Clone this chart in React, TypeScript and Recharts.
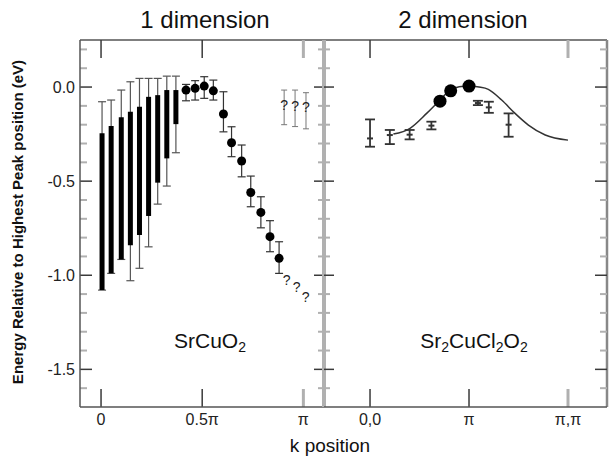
import React from 'react';
import { ComposedChart, Scatter, Line, XAxis, YAxis, ErrorBar, ReferenceLine } from 'recharts';

const FONT = '"Liberation Sans", Arial, Helvetica, sans-serif';

// ---------- Left panel: 1 dimension, SrCuO2 (k in units of pi) ----------
const barK = [0.005, 0.05, 0.1, 0.145, 0.19, 0.235, 0.28, 0.325, 0.37];
const barTop = [-0.246, -0.207, -0.161, -0.131, -0.105, -0.052, -0.043, -0.016, -0.016];
const barBottom = [-1.079, -0.99, -0.916, -0.84, -0.786, -0.685, -0.508, -0.379, -0.197];
const whiskerTop = [-0.078, -0.069, -0.016, 0.028, 0.046, 0.046, 0.046, 0.058, 0.058];
const whiskerBottom = [-1.079, -0.99, -0.916, -1.029, -0.963, -0.849, -0.622, -0.526, -0.349];

const dotK = [0.42, 0.465, 0.51, 0.555, 0.605, 0.645, 0.695, 0.74, 0.79, 0.835, 0.88];
const dotE = [-0.016, -0.007, 0.005, -0.02, -0.143, -0.296, -0.393, -0.56, -0.666, -0.795, -0.91];
const dotHi = [0.014, 0.034, 0.055, 0.037, -0.025, -0.211, -0.308, -0.473, -0.583, -0.71, -0.822];
const dotLo = [-0.073, -0.069, -0.06, -0.069, -0.238, -0.37, -0.477, -0.636, -0.748, -0.875, -0.99];

const qUpK = [0.905, 0.959, 1.013];
const qUpE = [-0.097, -0.1, -0.105];
const qUpHi = [-0.016, -0.016, -0.03];
const qUpLo = [-0.2, -0.21, -0.222];

const qLowK = [0.918, 0.967, 1.011];
const qLowE = [-1.026, -1.061, -1.114];

const xTicks1 = [0, 0.5, 1];
const xLabels1 = ['0', '0.5\u03c0', '\u03c0'];

// ---------- Right panel: 2 dimension, Sr2CuCl2O2 ----------
const curveK = [0.236, 0.404, 0.572, 0.69, 0.808, 0.9, 1.0, 1.1, 1.195, 1.33, 1.465, 1.6, 1.77, 2.0];
const curveE = [-0.25, -0.219, -0.14, -0.078, -0.018, 0.002, 0.005, 0.0, -0.012, -0.069, -0.14, -0.202, -0.255, -0.282];

const dot2K = [0.707, 0.815, 1.0];
const dot2E = [-0.075, -0.02, 0.005];

const err2K = [0, 0.2, 0.4, 0.62, 1.09, 1.2, 1.4];
const err2E = [-0.273, -0.255, -0.253, -0.205, -0.085, -0.108, -0.2];
const err2Hi = [-0.172, -0.228, -0.228, -0.184, -0.073, -0.078, -0.14];
const err2Lo = [-0.317, -0.303, -0.278, -0.225, -0.096, -0.137, -0.264];

const xTicks2 = [0, 1, 2];
const xLabels2 = ['0,0', '\u03c0', '\u03c0,\u03c0'];

const yMajor = [0, -0.5, -1.0, -1.5];
const yMinor = [0.2, 0.1, -0.1, -0.2, -0.3, -0.4, -0.6, -0.7, -0.8, -0.9, -1.1, -1.2, -1.3, -1.4, -1.6];
const yLabels = ['0.0', '-0.5', '-1.0', '-1.5'];

// ---------- geometry (style) ----------
const Y_MIN = -1.7;
const Y_MAX = 0.25;
const PLOT_H = 367;
const X1 = [-0.104, 1.102];
const X2 = [-0.465, 2.394];
const PLOT_W1 = 244;
const PLOT_W2 = 283;
const yPerPx = (Y_MAX - Y_MIN) / PLOT_H;
const x1PerPx = (X1[1] - X1[0]) / PLOT_W1;
const x2PerPx = (X2[1] - X2[0]) / PLOT_W2;

const MAJOR = '#3a3a3a';
const MINOR = '#b0b0b0';
const FRAME = '#555';

// ---------- derived series data ----------
const barData = barK.map((k, i) => {
  const mid = (barTop[i] + barBottom[i]) / 2;
  return {
    k,
    v: mid,
    bar: [mid - barBottom[i], barTop[i] - mid],
    whisker: [mid - whiskerBottom[i], whiskerTop[i] - mid],
  };
});
const dotData = dotK.map((k, i) => ({ k, v: dotE[i], err: [dotE[i] - dotLo[i], dotHi[i] - dotE[i]] }));
const qUpData = qUpK.map((k, i) => ({ k, v: qUpE[i], err: [qUpE[i] - qUpLo[i], qUpHi[i] - qUpE[i]] }));
const qLowData = qLowK.map((k, i) => ({ k, v: qLowE[i] }));

const curveData = curveK.map((k, i) => ({ k, v: curveE[i] }));
const dot2Data = dot2K.map((k, i) => ({ k, v: dot2E[i] }));
const err2Data = err2K.map((k, i) => ({ k, v: err2E[i], err: [err2E[i] - err2Lo[i], err2Hi[i] - err2E[i]] }));

// ---------- shapes ----------
const renderNothing = () => <g />;
const makeDot = (r: number) => (p: any) => <circle cx={p.cx} cy={p.cy} r={r} fill="#000" />;
const renderQ = (p: any) => (
  <text x={p.cx} y={p.cy} textAnchor="middle" dominantBaseline="central" fontSize={14} fontFamily={FONT} fill="#222">
    ?
  </text>
);
const renderDash = (p: any) => (
  <line x1={p.cx - 3} x2={p.cx + 3} y1={p.cy} y2={p.cy} stroke="#333" strokeWidth={2} />
);

const seg = (a: number, b: number, c: number, d: number, stroke: string, w: number, key: string) => (
  <ReferenceLine
    key={key}
    segment={[{ x: a, y: b }, { x: c, y: d }]}
    stroke={stroke}
    strokeWidth={w}
    ifOverflow="visible"
  />
);

const tickStyle = { fontSize: 16, fontFamily: FONT, fill: '#222' };

function frameTicks(xTicks: number[], X: number[], xPerPx: number, leftLen: [number, number], rightLen: [number, number], id: string) {
  const out: any[] = [];
  xTicks.forEach((t, i) => {
    const last = i === xTicks.length - 1;
    const col = last ? MINOR : MAJOR;
    const w = last ? 3 : 1.5;
    out.push(seg(t, Y_MIN, t, Y_MIN + 18 * yPerPx, col, w, `${id}xb${i}`));
    out.push(seg(t, Y_MAX, t, Y_MAX - 18 * yPerPx, col, w, `${id}xt${i}`));
  });
  yMajor.forEach((v, i) => {
    out.push(seg(X[0], v, X[0] + leftLen[0] * xPerPx, v, MAJOR, 1.5, `${id}yl${i}`));
    out.push(seg(X[1], v, X[1] - rightLen[0] * xPerPx, v, MAJOR, 1.5, `${id}yr${i}`));
  });
  yMinor.forEach((v, i) => {
    out.push(seg(X[0], v, X[0] + leftLen[1] * xPerPx, v, MINOR, 2, `${id}ml${i}`));
    out.push(seg(X[1], v, X[1] - rightLen[1] * xPerPx, v, MINOR, 2, `${id}mr${i}`));
  });
  return out;
}

function LeftPanel() {
  return (
    <ComposedChart width={330} height={458} margin={{ top: 40, right: 6, bottom: 21, left: 0 }}>
      <XAxis
        type="number"
        dataKey="k"
        domain={X1}
        allowDataOverflow
        ticks={xTicks1}
        tickFormatter={(v: number) => xLabels1[xTicks1.indexOf(v)] ?? ''}
        tickLine={false}
        tickSize={5}
        height={30}
        axisLine={{ stroke: FRAME, strokeWidth: 1.5 }}
        tick={tickStyle}
      />
      <YAxis
        type="number"
        dataKey="v"
        domain={[Y_MIN, Y_MAX]}
        allowDataOverflow
        ticks={yMajor}
        tickFormatter={(v: number) => yLabels[yMajor.indexOf(v)] ?? ''}
        tickLine={false}
        tickSize={2}
        tickMargin={3}
        width={80}
        axisLine={{ stroke: FRAME, strokeWidth: 1.5 }}
        tick={tickStyle}
      />
      <ReferenceLine y={Y_MAX} stroke={FRAME} strokeWidth={1.5} ifOverflow="visible" />
      {frameTicks(xTicks1, X1, x1PerPx, [12, 7], [10, 6], 'L')}
      <Scatter data={barData} shape={renderNothing} isAnimationActive={false}>
        <ErrorBar dataKey="whisker" direction="y" width={4} stroke="#555" strokeWidth={1.2} />
        <ErrorBar dataKey="bar" direction="y" width={0} stroke="#000" strokeWidth={5} />
      </Scatter>
      <Scatter data={dotData} shape={makeDot(4.5)} isAnimationActive={false}>
        <ErrorBar dataKey="err" direction="y" width={4} stroke="#333" strokeWidth={1.2} />
      </Scatter>
      <Scatter data={qUpData} shape={renderQ} isAnimationActive={false}>
        <ErrorBar dataKey="err" direction="y" width={3} stroke="#777" strokeWidth={1} />
      </Scatter>
      <Scatter data={qLowData} shape={renderQ} isAnimationActive={false} />
    </ComposedChart>
  );
}

function RightPanel() {
  return (
    <ComposedChart width={292} height={458} margin={{ top: 40, right: 3, bottom: 21, left: 6 }}>
      <XAxis
        type="number"
        dataKey="k"
        domain={X2}
        allowDataOverflow
        ticks={xTicks2}
        tickFormatter={(v: number) => xLabels2[xTicks2.indexOf(v)] ?? ''}
        tickLine={false}
        tickSize={5}
        height={30}
        axisLine={{ stroke: FRAME, strokeWidth: 1.5 }}
        tick={tickStyle}
      />
      <YAxis type="number" dataKey="v" domain={[Y_MIN, Y_MAX]} allowDataOverflow hide />
      <ReferenceLine y={Y_MAX} stroke={FRAME} strokeWidth={1.5} ifOverflow="visible" />
      <ReferenceLine x={X2[1]} stroke="#888" strokeWidth={2.5} ifOverflow="visible" />
      <ReferenceLine x={X2[0]} stroke="#b0b0b0" strokeWidth={4} ifOverflow="visible" />
      {frameTicks(xTicks2, X2, x2PerPx, [10, 6], [12, 7], 'R')}
      <Line
        data={curveData}
        dataKey="v"
        type="monotone"
        stroke="#333"
        strokeWidth={1.5}
        dot={false}
        isAnimationActive={false}
      />
      <Scatter data={err2Data} shape={renderDash} isAnimationActive={false}>
        <ErrorBar dataKey="err" direction="y" width={5} stroke="#333" strokeWidth={1.8} />
      </Scatter>
      <Scatter data={dot2Data} shape={makeDot(6.5)} isAnimationActive={false} />
    </ComposedChart>
  );
}

export default function App() {
  return (
    <div style={{ position: 'absolute', left: 0, top: 0, width: 610, height: 458, background: '#fff', overflow: 'hidden' }}>
      <div style={{ position: 'absolute', left: 0, top: 0 }}>
        <LeftPanel />
      </div>
      <div style={{ position: 'absolute', left: 318, top: 0 }}>
        <RightPanel />
      </div>
      <svg width={610} height={458} style={{ position: 'absolute', left: 0, top: 0, pointerEvents: 'none' }}>
        <g fontFamily={FONT} fill="#111">
          <text x={205} y={28} fontSize={24} textAnchor="middle">1 dimension</text>
          <text x={463} y={28} fontSize={24} textAnchor="middle">2 dimension</text>
          <text x={330} y={452} fontSize={19} textAnchor="middle">k position</text>
          <text transform="translate(23,222) rotate(-90)" fontSize={15} fontWeight="bold" textAnchor="middle">
            Energy Relative to Highest Peak position (eV)
          </text>
          <text x={210} y={348} fontSize={21} textAnchor="middle">
            SrCuO<tspan fontSize={14} dy={4}>2</tspan>
          </text>
          <text x={474} y={348} fontSize={21} textAnchor="middle">
            Sr<tspan fontSize={14} dy={4}>2</tspan>
            <tspan dy={-4}>CuCl</tspan>
            <tspan fontSize={14} dy={4}>2</tspan>
            <tspan dy={-4}>O</tspan>
            <tspan fontSize={14} dy={4}>2</tspan>
          </text>
        </g>
      </svg>
    </div>
  );
}
